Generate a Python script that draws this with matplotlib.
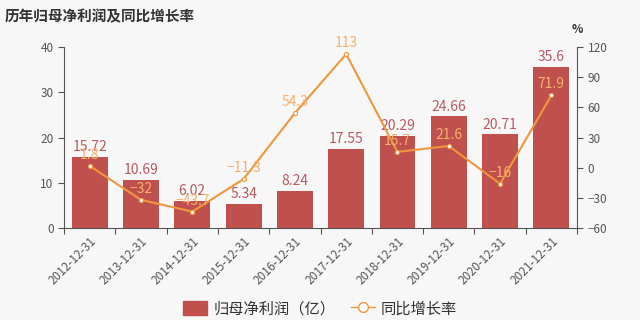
import matplotlib.pyplot as plt
import numpy as np

plt.rcParams['font.family'] = ['Noto Sans CJK SC', 'DejaVu Sans']

dates = ['2012-12-31', '2013-12-31', '2014-12-31', '2015-12-31', '2016-12-31',
         '2017-12-31', '2018-12-31', '2019-12-31', '2020-12-31', '2021-12-31']
profit = [15.72, 10.69, 6.02, 5.34, 8.24, 17.55, 20.29, 24.66, 20.71, 35.6]
growth = [1.8, -32, -43.7, -11.3, 54.3, 113, 15.7, 21.6, -16, 71.9]
profit_labels = ['15.72', '10.69', '6.02', '5.34', '8.24', '17.55', '20.29', '24.66', '20.71', '35.6']
growth_labels = ['1.8', '-32', '-43.7', '-11.3', '54.3', '113', '15.7', '21.6', '-16', '71.9']

bg = '#f7f7f7'
bar_color = '#c0504d'
line_color = '#f0963c'
axis_color = '#555555'

fig = plt.figure(figsize=(6.4, 3.2), dpi=100, facecolor=bg)
ax = fig.add_axes([0.1, 0.2875, 0.8016, 0.5655])
ax.set_facecolor(bg)
x = np.arange(len(dates))

ax.bar(x, profit, width=0.7, color=bar_color, zorder=2)
for xi, v, s in zip(x, profit, profit_labels):
    ax.text(xi, v + 0.6, s, ha='center', va='bottom', fontsize=10, color='#b85a64', zorder=5)

ax.set_xlim(-0.5, len(dates) - 0.5)
ax.set_ylim(0, 40)
ax.set_yticks([0, 10, 20, 30, 40])
# ticks sit between categories, labels at the bar centres
ax.set_xticks(np.arange(-0.5, len(dates), 1.0))
ax.set_xticklabels([])
ax.set_xticks(x, minor=True)
ax.set_xticklabels(dates, minor=True, rotation=45, ha='right', rotation_mode='anchor',
                   fontsize=8.5, color=axis_color)
ax.tick_params(axis='x', which='minor', length=0, pad=5)
ax.tick_params(axis='x', which='major', length=4, color=axis_color)
ax.tick_params(axis='y', labelsize=8.5, colors=axis_color, length=4)
for side in ['top', 'right']:
    ax.spines[side].set_visible(False)
for side in ['left', 'bottom']:
    ax.spines[side].set_color(axis_color)

ax2 = ax.twinx()
ax2.plot(x, growth, color=line_color, lw=1.5, marker='o', ms=3,
         mfc='white', mec=line_color, mew=0.8, zorder=4)
for xi, v, s in zip(x, growth, growth_labels):
    ax2.text(xi, v + 4, s.replace('-', '\u2212'), ha='center', va='bottom', fontsize=10,
             color='#f5b06e', zorder=6)
ax2.set_ylim(-60, 120)
ax2.set_yticks([-60, -30, 0, 30, 60, 90, 120])
ax2.set_yticklabels(['\u221260', '\u221230', '0', '30', '60', '90', '120'])
ax2.tick_params(axis='y', labelsize=8.5, colors=axis_color, length=4)
for side in ['top', 'left', 'bottom']:
    ax2.spines[side].set_visible(False)
ax2.spines['right'].set_color(axis_color)
ax2.text(1.0, 1.06, '%', transform=ax2.transAxes, ha='center', va='bottom',
         fontsize=8.5, color='#333333', fontweight='bold')

fig.text(0.008, 0.975, '历年归母净利润及同比增长率', ha='left', va='top',
         fontsize=10.5, fontweight='bold', color='#333333')

handles = [plt.Rectangle((0, 0), 1, 1, color=bar_color),
           plt.Line2D([], [], color=line_color, lw=1, marker='o', ms=7, mfc='white',
                      mec=line_color)]
fig.legend(handles, ['归母净利润（亿）', '同比增长率'], loc='lower center',
           bbox_to_anchor=(0.5, -0.035), ncol=2, frameon=False, fontsize=11,
           handlelength=1.6, handleheight=1.0, columnspacing=1.0, handletextpad=0.4,
           labelcolor='#333333')

fig.savefig('out.png', dpi=100, facecolor=bg)
